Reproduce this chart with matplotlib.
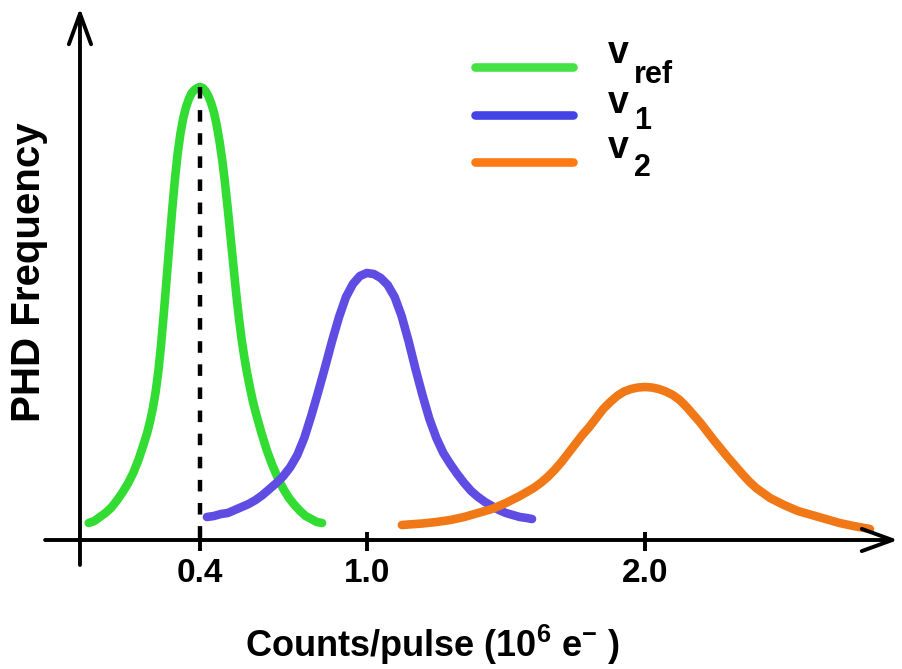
import matplotlib
matplotlib.use("Agg")
import matplotlib.pyplot as plt

# ---------------- data ----------------
tick_values = [0.4, 1.0, 2.0]
tick_labels = ["0.4", "1.0", "2.0"]

series_subscripts = ["ref", "1", "2"]
curve_colors = ["#33dc33", "#5f4de3", "#f07816"]
legend_colors = ["#44e244", "#4444e6", "#ff7a12"]

green_x = [0.000, 0.020, 0.040, 0.060, 0.080, 0.100, 0.120, 0.140, 0.160, 0.180,
           0.200, 0.210, 0.220, 0.230, 0.240, 0.250, 0.260, 0.270, 0.280, 0.290,
           0.300, 0.310, 0.320, 0.330, 0.340, 0.350, 0.360, 0.370, 0.380, 0.390,
           0.400, 0.410, 0.420, 0.430, 0.440, 0.450, 0.460, 0.470, 0.480, 0.490,
           0.500, 0.510, 0.520, 0.530, 0.540, 0.550, 0.560, 0.570, 0.580, 0.590,
           0.600, 0.620, 0.640, 0.660, 0.680, 0.700, 0.720, 0.740, 0.760, 0.780,
           0.800, 0.820, 0.839]
green_y = [0.17, 0.19, 0.23, 0.27, 0.32, 0.39, 0.47, 0.56, 0.67, 0.81,
           0.98, 1.07, 1.18, 1.31, 1.47, 1.68, 1.95, 2.27, 2.61, 2.96,
           3.30, 3.61, 3.87, 4.07, 4.22, 4.33, 4.41, 4.47, 4.50, 4.52,
           4.53, 4.52, 4.49, 4.44, 4.37, 4.28, 4.15, 3.99, 3.80, 3.57,
           3.31, 3.03, 2.75, 2.47, 2.22, 2.00, 1.82, 1.66, 1.52, 1.39,
           1.28, 1.08, 0.90, 0.75, 0.62, 0.51, 0.42, 0.35, 0.29, 0.24,
           0.21, 0.18, 0.17]

blue_x = [0.425, 0.450, 0.475, 0.500, 0.525, 0.550, 0.575, 0.600, 0.625, 0.650,
          0.675, 0.700, 0.725, 0.750, 0.775, 0.800, 0.825, 0.850, 0.875, 0.900,
          0.925, 0.950, 0.975, 1.000, 1.025, 1.050, 1.075, 1.100, 1.125, 1.150,
          1.175, 1.200, 1.225, 1.250, 1.275, 1.300, 1.325, 1.350, 1.375, 1.400,
          1.425, 1.450, 1.475, 1.500, 1.525, 1.550, 1.575, 1.594]
blue_y = [0.23, 0.24, 0.26, 0.27, 0.30, 0.33, 0.36, 0.40, 0.45, 0.51,
          0.57, 0.64, 0.73, 0.85, 1.02, 1.24, 1.48, 1.73, 1.99, 2.23,
          2.43, 2.56, 2.64, 2.67, 2.66, 2.62, 2.55, 2.43, 2.24, 1.99,
          1.71, 1.45, 1.21, 1.02, 0.87, 0.76, 0.66, 0.57, 0.49, 0.43,
          0.38, 0.34, 0.30, 0.27, 0.25, 0.23, 0.22, 0.21]

orange_x = [1.126, 1.150, 1.200, 1.250, 1.300, 1.350, 1.400, 1.450, 1.500, 1.550,
            1.600, 1.625, 1.650, 1.675, 1.700, 1.725, 1.750, 1.775, 1.800, 1.825,
            1.850, 1.875, 1.900, 1.925, 1.950, 1.975, 2.000, 2.025, 2.050, 2.075,
            2.100, 2.125, 2.150, 2.175, 2.200, 2.225, 2.250, 2.275, 2.300, 2.325,
            2.350, 2.375, 2.400, 2.450, 2.500, 2.550, 2.600, 2.650, 2.700, 2.750,
            2.809]
orange_y = [0.15, 0.155, 0.165, 0.18, 0.20, 0.23, 0.27, 0.31, 0.37, 0.44,
            0.52, 0.57, 0.63, 0.70, 0.78, 0.87, 0.96, 1.05, 1.13, 1.22,
            1.31, 1.38, 1.44, 1.485, 1.51, 1.525, 1.53, 1.525, 1.51, 1.485,
            1.45, 1.40, 1.33, 1.25, 1.17, 1.08, 0.99, 0.905, 0.82, 0.74,
            0.66, 0.585, 0.52, 0.42, 0.35, 0.29, 0.25, 0.21, 0.17, 0.14,
            0.11]

ref_peak_x = 0.4
ref_peak_y = 4.53

# ---------------- fonts ----------------
plt.rcParams["font.family"] = ["Liberation Sans", "DejaVu Sans"]
plt.rcParams["mathtext.fontset"] = "custom"
for k in ("rm", "it", "bf", "sf"):
    plt.rcParams["mathtext." + k] = "Liberation Sans:bold"

# ---------------- figure ----------------
fig = plt.figure(figsize=(9.02, 6.69), dpi=100)
ax = fig.add_axes([0, 0, 1, 1])
ax.set_xlim(-0.3191, 2.9244)
ax.set_ylim(-1.29, 5.40)
ax.axis("off")

# axes with arrows
arrow_kw = dict(arrowstyle="->,head_length=1.1,head_width=0.4", lw=2.8, color="black",
                mutation_scale=20, shrinkA=0, shrinkB=0)
ax.annotate("", xy=(2.91, 0), xytext=(-0.157, 0), arrowprops=arrow_kw)
ax.annotate("", xy=(-0.0315, 5.32), xytext=(-0.0315, -0.25), arrowprops=arrow_kw)

# ticks
ax.vlines(tick_values, -0.11, 0.08, color="black", lw=2.8)
for v, lab in zip(tick_values, tick_labels):
    ax.text(v, -0.33, lab, ha="center", va="center", fontsize=24, fontweight="bold")

# curves
curves = [(green_x, green_y), (blue_x, blue_y), (orange_x, orange_y)]
for (xs, ys), c in zip(curves, curve_colors):
    ax.plot(xs, ys, color=c, lw=6.2, solid_capstyle="round", solid_joinstyle="round", zorder=2)

# dashed reference line
ax.plot([ref_peak_x, ref_peak_x], [ref_peak_y, 0], color="black", lw=3.2,
        dashes=(2.6, 2.6), zorder=3)

# labels
ax.text(-0.215, 2.68, "PHD Frequency", rotation=90, ha="center", va="center",
        fontsize=29, fontweight="bold")
ax.text(1.235, -1.17, r"Counts/pulse (10$^{6}$ e$^{-}$ )", ha="center", va="baseline",
        fontsize=26, fontweight="bold")

# legend
row_y = [4.73, 4.25, 3.78]
v_base = [4.77, 4.27, 3.82]
sub_base = [4.57, 4.11, 3.64]
for i, sub in enumerate(series_subscripts):
    ax.plot([1.390, 1.742], [row_y[i], row_y[i]], color=legend_colors[i], lw=6.2,
            solid_capstyle="round")
    ax.text(1.865, v_base[i], "v", ha="left", va="baseline", fontsize=27,
            fontweight="bold")
    ax.text(1.962, sub_base[i], sub, ha="left", va="baseline", fontsize=22,
            fontweight="bold")

fig.savefig("out.png", dpi=100)
